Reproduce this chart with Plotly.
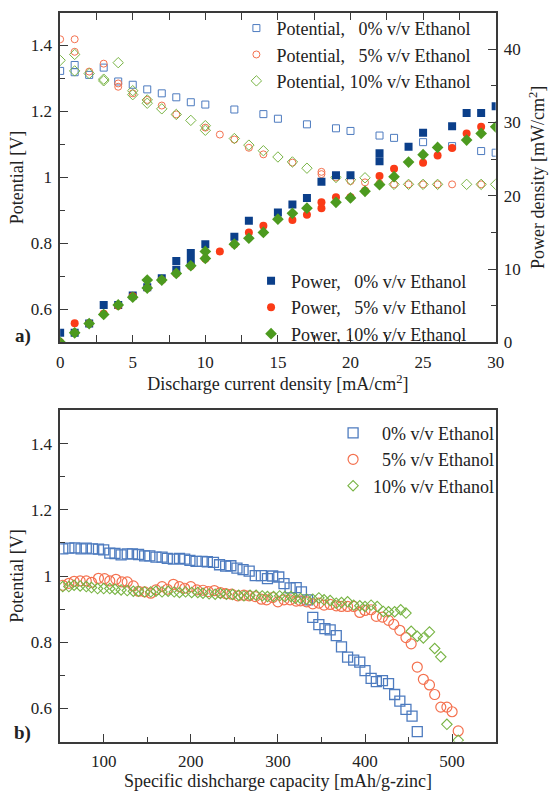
import plotly.graph_objects as go

# ---------------- Panel a) : polarisation and power curves ----------------
# Cell potential [V] vs discharge current density [mA/cm2]
pot0_x = [0, 1, 1, 2, 3, 4, 5, 6, 7, 8, 9, 10, 12, 14, 15, 17, 19, 20, 22, 23, 25, 27, 29, 30]
pot0_v = [1.323, 1.341, 1.319, 1.311, 1.333, 1.291, 1.281, 1.267, 1.255, 1.243, 1.228, 1.221,
          1.206, 1.192, 1.178, 1.161, 1.149, 1.141, 1.127, 1.120, 1.107, 1.095, 1.080, 1.075]

pot5_x = [0, 1, 1, 2, 3, 4, 4, 5, 6, 7, 8, 10, 11, 12, 13, 14, 16, 18, 18, 19, 20, 21,
          22, 23, 24, 25, 26, 27, 29]
pot5_v = [1.419, 1.419, 1.381, 1.321, 1.345, 1.285, 1.275, 1.255, 1.235, 1.218, 1.191, 1.151,
          1.130, 1.115, 1.090, 1.070, 1.045, 1.017, 1.010, 1.000, 0.989, 0.985,
          0.982, 0.979, 0.979, 0.979, 0.979, 0.979, 0.979]

pot10_x = [0, 1, 1, 2, 3, 3, 4, 5, 5, 6, 6, 7, 8, 9, 10, 10, 12, 13, 14, 15, 16, 17, 19, 20,
           21, 22, 23, 24, 25, 26, 28, 29, 30]
pot10_v = [1.355, 1.373, 1.323, 1.315, 1.298, 1.293, 1.348, 1.263, 1.251, 1.235, 1.225, 1.208,
           1.191, 1.173, 1.157, 1.143, 1.118, 1.098, 1.081, 1.062, 1.047, 1.028, 1.000, 0.993,
           0.999, 0.979, 0.979, 0.979, 0.979, 0.979, 0.979, 0.979, 0.979]

# Power density [mW/cm2] vs discharge current density [mA/cm2]
pow0_x = [0, 1, 2, 3, 4, 5, 6, 7, 8, 8, 9, 9, 10, 12, 13, 15, 16, 17, 18, 19, 20, 22, 22,
          24, 25, 27, 28, 29, 30]
pow0_p = [1.3, 1.3, 2.56, 5.1, 5.1, 6.4, 7.5, 8.75, 9.9, 11.1, 11.1, 12.2, 13.4, 14.4, 16.6,
          17.7, 18.8, 19.7, 21.9, 22.8, 22.8, 24.7, 25.8, 26.7, 28.6, 29.5, 31.3, 31.3, 32.2]

pow5_x = [0, 1, 2, 3, 4, 5, 6, 7, 8, 9, 10, 11, 12, 13, 14, 16, 17, 18, 18, 19, 20, 21, 22,
          23, 25, 26, 27, 28, 29]
pow5_p = [0, 2.6, 2.56, 3.9, 5.0, 6.3, 7.4, 8.5, 9.4, 10.4, 11.4, 12.4, 13.4, 15.0, 15.9,
          16.7, 17.4, 18.3, 19.1, 19.8, 19.8, 20.7, 22.7, 23.7, 24.5, 25.5, 26.5, 28.5, 29.4]

pow10_x = [0, 1, 2, 3, 4, 5, 6, 6, 7, 8, 9, 10, 10, 12, 13, 14, 15, 16, 17, 19, 20, 21, 22,
           23, 24, 25, 26, 28, 29, 30]
pow10_p = [0, 1.3, 2.56, 3.8, 5.1, 6.15, 7.4, 8.5, 8.5, 9.4, 10.45, 11.45, 12.4, 13.4, 14.2,
           15.0, 16.8, 17.6, 18.3, 19.1, 19.7, 20.6, 21.5, 22.6, 24.6, 25.6, 26.6, 27.6, 28.5,
           29.4]

# ---------------- Panel b) : discharge curves ----------------
# Potential [V] vs specific discharge capacity [mAh/g-zinc]
dis0_x = [53, 60, 67, 74, 80, 87, 94, 100, 107, 113, 120, 127, 133, 140, 147, 153, 160, 167,
          173, 180, 187, 193, 199, 206, 213, 219, 226, 233, 240, 246, 253, 260, 267, 274, 281,
          288, 294, 301, 307, 314, 321, 327, 334, 340, 347, 354, 360, 367, 373, 380, 387, 394,
          400, 407, 413, 420, 427, 434, 440, 447, 454, 460]
dis0_v = [1.082, 1.084, 1.085, 1.082, 1.084, 1.082, 1.081, 1.079, 1.069, 1.068, 1.064, 1.067,
          1.067, 1.065, 1.061, 1.061, 1.057, 1.057, 1.053, 1.051, 1.053, 1.051, 1.047, 1.044,
          1.044, 1.043, 1.041, 1.034, 1.030, 1.031, 1.024, 1.019, 1.015, 1.001, 1.001, 0.992,
          1.000, 0.997, 0.977, 0.964, 0.965, 0.952, 0.928, 0.875, 0.853, 0.841, 0.837, 0.820,
          0.786, 0.755, 0.746, 0.740, 0.714, 0.691, 0.681, 0.684, 0.675, 0.642, 0.622, 0.597,
          0.577, 0.530]

dis5_x = [53, 60, 66, 73, 80, 86, 94, 101, 107, 114, 121, 127, 134, 140, 147, 154, 160, 167,
          173, 180, 187, 193, 200, 207, 214, 220, 227, 234, 240, 247, 254, 261, 267, 274, 281,
          287, 294, 300, 307, 314, 321, 326, 333, 340, 347, 353, 360, 367, 373, 380, 387, 394,
          400, 407, 413, 420, 427, 433, 440, 447, 453, 460, 467, 474, 480, 487, 494, 500, 507]
dis5_v = [0.972, 0.978, 0.984, 0.985, 0.985, 0.981, 0.993, 0.992, 0.985, 0.990, 0.982, 0.982,
          0.970, 0.954, 0.952, 0.948, 0.958, 0.968, 0.960, 0.975, 0.968, 0.963, 0.968, 0.958,
          0.957, 0.953, 0.956, 0.950, 0.947, 0.945, 0.940, 0.942, 0.940, 0.938, 0.930, 0.928,
          0.935, 0.922, 0.928, 0.928, 0.924, 0.925, 0.922, 0.916, 0.918, 0.912, 0.914, 0.910,
          0.908, 0.908, 0.908, 0.890, 0.896, 0.898, 0.878, 0.876, 0.866, 0.854, 0.836, 0.814,
          0.795, 0.725, 0.688, 0.671, 0.642, 0.604, 0.604, 0.590, 0.532]

dis10_x = [53, 60, 66, 73, 80, 86, 93, 100, 107, 113, 120, 127, 134, 140, 147, 154, 160, 167,
           174, 181, 187, 194, 201, 208, 214, 221, 228, 234, 241, 248, 255, 261, 268, 275, 282,
           288, 295, 302, 308, 315, 320, 326, 333, 340, 347, 353, 360, 367, 373, 380, 387, 394,
           400, 407, 414, 421, 427, 434, 441, 447, 453, 460, 467, 474, 480, 487, 494, 507]
dis10_v = [0.968, 0.968, 0.972, 0.970, 0.968, 0.965, 0.962, 0.962, 0.962, 0.960, 0.958, 0.956,
           0.954, 0.954, 0.952, 0.952, 0.954, 0.952, 0.954, 0.952, 0.950, 0.952, 0.950, 0.950,
           0.948, 0.946, 0.945, 0.947, 0.945, 0.944, 0.942, 0.940, 0.942, 0.942, 0.940, 0.938,
           0.938, 0.940, 0.938, 0.938, 0.933, 0.932, 0.930, 0.930, 0.934, 0.928, 0.926, 0.918,
           0.920, 0.922, 0.912, 0.910, 0.908, 0.912, 0.908, 0.893, 0.892, 0.892, 0.898, 0.888,
           0.833, 0.818, 0.813, 0.831, 0.781, 0.756, 0.552, 0.504]

# ---------------- Styling ----------------
SERIF = "Liberation Serif"
INK = "#222222"
FRAME = "#3a3a3a"

C0_OPEN, C0_FILL = "#4d7bbf", "#0b3f8a"
C5_OPEN, C5_FILL = "#f4714f", "#fb3b17"
C10_OPEN, C10_FILL = "#78b444", "#4c9a1f"

W, H = 553, 794
PX_L, PX_R = 57.5, 503.5
TOP_T, TOP_B = 12.7, 346.7
BOT_T, BOT_B = 415.7, 751.0


def fx(px):
    return px / W


def fy(py):
    return 1 - py / H


def open_marker(symbol, color, size, width=1.0):
    # open symbols take their stroke colour from marker.color
    return dict(symbol=symbol, size=size, color=color, line=dict(color=color, width=width))


fig = go.Figure()

# Panel a) potential (open markers, left axis)
fig.add_trace(go.Scatter(x=pot0_x, y=pot0_v, mode="markers",
                         name="Potential, \u00a0\u00a00% v/v Ethanol",
                         marker=open_marker("square-open", C0_OPEN, 7),
                         xaxis="x", yaxis="y", legend="legend"))
fig.add_trace(go.Scatter(x=pot5_x, y=pot5_v, mode="markers",
                         name="Potential, \u00a0\u00a05% v/v Ethanol",
                         marker=open_marker("circle-open", C5_OPEN, 7),
                         xaxis="x", yaxis="y", legend="legend"))
fig.add_trace(go.Scatter(x=pot10_x, y=pot10_v, mode="markers",
                         name="Potential, 10% v/v Ethanol",
                         marker=open_marker("diamond-open", C10_OPEN, 8),
                         xaxis="x", yaxis="y", legend="legend"))

# Panel a) power density (filled markers, right axis)
fig.add_trace(go.Scatter(x=pow0_x, y=pow0_p, mode="markers",
                         name="Power, \u00a0\u00a00% v/v Ethanol",
                         marker=dict(symbol="square", size=8, color=C0_FILL),
                         xaxis="x", yaxis="y2", legend="legend2"))
fig.add_trace(go.Scatter(x=pow5_x, y=pow5_p, mode="markers",
                         name="Power, \u00a0\u00a05% v/v Ethanol",
                         marker=dict(symbol="circle", size=8, color=C5_FILL),
                         xaxis="x", yaxis="y2", legend="legend2"))
fig.add_trace(go.Scatter(x=pow10_x, y=pow10_p, mode="markers",
                         name="Power, 10% v/v Ethanol",
                         marker=dict(symbol="diamond", size=9, color=C10_FILL),
                         xaxis="x", yaxis="y2", legend="legend2"))

# Panel b) discharge curves
fig.add_trace(go.Scatter(x=dis0_x, y=dis0_v, mode="markers",
                         name="\u00a0\u00a00% v/v Ethanol",
                         marker=open_marker("square-open", C0_OPEN, 10, 1.3),
                         xaxis="x2", yaxis="y3", legend="legend3"))
fig.add_trace(go.Scatter(x=dis5_x, y=dis5_v, mode="markers",
                         name="\u00a0\u00a05% v/v Ethanol",
                         marker=open_marker("circle-open", C5_OPEN, 10, 1.2),
                         xaxis="x2", yaxis="y3", legend="legend3"))
fig.add_trace(go.Scatter(x=dis10_x, y=dis10_v, mode="markers",
                         name="10% v/v Ethanol",
                         marker=open_marker("diamond-open", C10_OPEN, 8, 1.1),
                         xaxis="x2", yaxis="y3", legend="legend3"))

tickfont = dict(family=SERIF, size=17, color=INK)
titlefont = dict(family=SERIF, size=18, color=INK)
common = dict(showgrid=False, zeroline=False, showline=True, linecolor=FRAME, linewidth=1.6,
              ticks="inside", ticklen=8, tickwidth=1.3, tickcolor=FRAME, tickfont=tickfont,
              ticklabelstandoff=3)
minor = dict(ticks="inside", ticklen=5, tickwidth=1.3, tickcolor=FRAME, showgrid=False)

xdom = [fx(PX_L), fx(PX_R)]
top_dom = [fy(TOP_B), fy(TOP_T)]
bot_dom = [fy(BOT_B), fy(BOT_T)]

legend_font = dict(family=SERIF, size=18, color=INK)

fig.update_layout(
    width=W, height=H,
    margin=dict(l=0, r=0, t=0, b=0),
    paper_bgcolor="white", plot_bgcolor="white",
    font=dict(family=SERIF, color=INK),
    xaxis=dict(**common, domain=xdom, anchor="y", range=[0, 30], dtick=5, tick0=0,
               mirror="allticks", minor=dict(**minor, dtick=2.5),
               title=dict(text="Discharge current density [mA/cm<sup>2</sup>]",
                          font=titlefont, standoff=4)),
    yaxis=dict(**common, domain=top_dom, anchor="x", range=[0.5, 1.5], dtick=0.2, tick0=0.6,
               minor=dict(**minor, dtick=0.1),
               title=dict(text="Potential [V]", font=titlefont, standoff=2)),
    yaxis2=dict(**common, overlaying="y", side="right", anchor="x", range=[0, 45],
                dtick=10, tick0=0, minor=dict(**minor, dtick=5),
                title=dict(text="Power density [mW/cm<sup>2</sup>]", font=titlefont,
                           standoff=12)),
    xaxis2=dict(**common, domain=xdom, anchor="y3", range=[50, 550], dtick=100, tick0=100,
                mirror=True, minor=dict(**minor, dtick=50, tick0=0),
                title=dict(text="Specific dishcharge capacity [mAh/g-zinc]", font=titlefont,
                           standoff=4)),
    yaxis3=dict(**common, domain=bot_dom, anchor="x2", range=[0.5, 1.5], dtick=0.2,
                tick0=0.6, mirror=True, minor=dict(**minor, dtick=0.1),
                title=dict(text="Potential [V]", font=titlefont, standoff=2)),
    legend=dict(x=fx(238), y=fy(10), xanchor="left", yanchor="top",
                bgcolor="rgba(0,0,0,0)", font=legend_font, tracegroupgap=0, itemclick=False),
    legend2=dict(x=fx(253), y=fy(266), xanchor="left", yanchor="top",
                 bgcolor="rgba(0,0,0,0)", font=legend_font, tracegroupgap=0, itemclick=False),
    legend3=dict(x=fx(337), y=fy(420), xanchor="left", yanchor="top",
                 bgcolor="rgba(0,0,0,0)", font=legend_font, tracegroupgap=0, itemclick=False),
    annotations=[
        dict(text="<b>a)</b>", x=fx(19), y=fy(340), xref="paper", yref="paper",
             xanchor="center", yanchor="middle", showarrow=False,
             font=dict(family=SERIF, size=19, color=INK)),
        dict(text="<b>b)</b>", x=fx(19), y=fy(742), xref="paper", yref="paper",
             xanchor="center", yanchor="middle", showarrow=False,
             font=dict(family=SERIF, size=19, color=INK)),
    ],
)

fig.write_html("out.html")
